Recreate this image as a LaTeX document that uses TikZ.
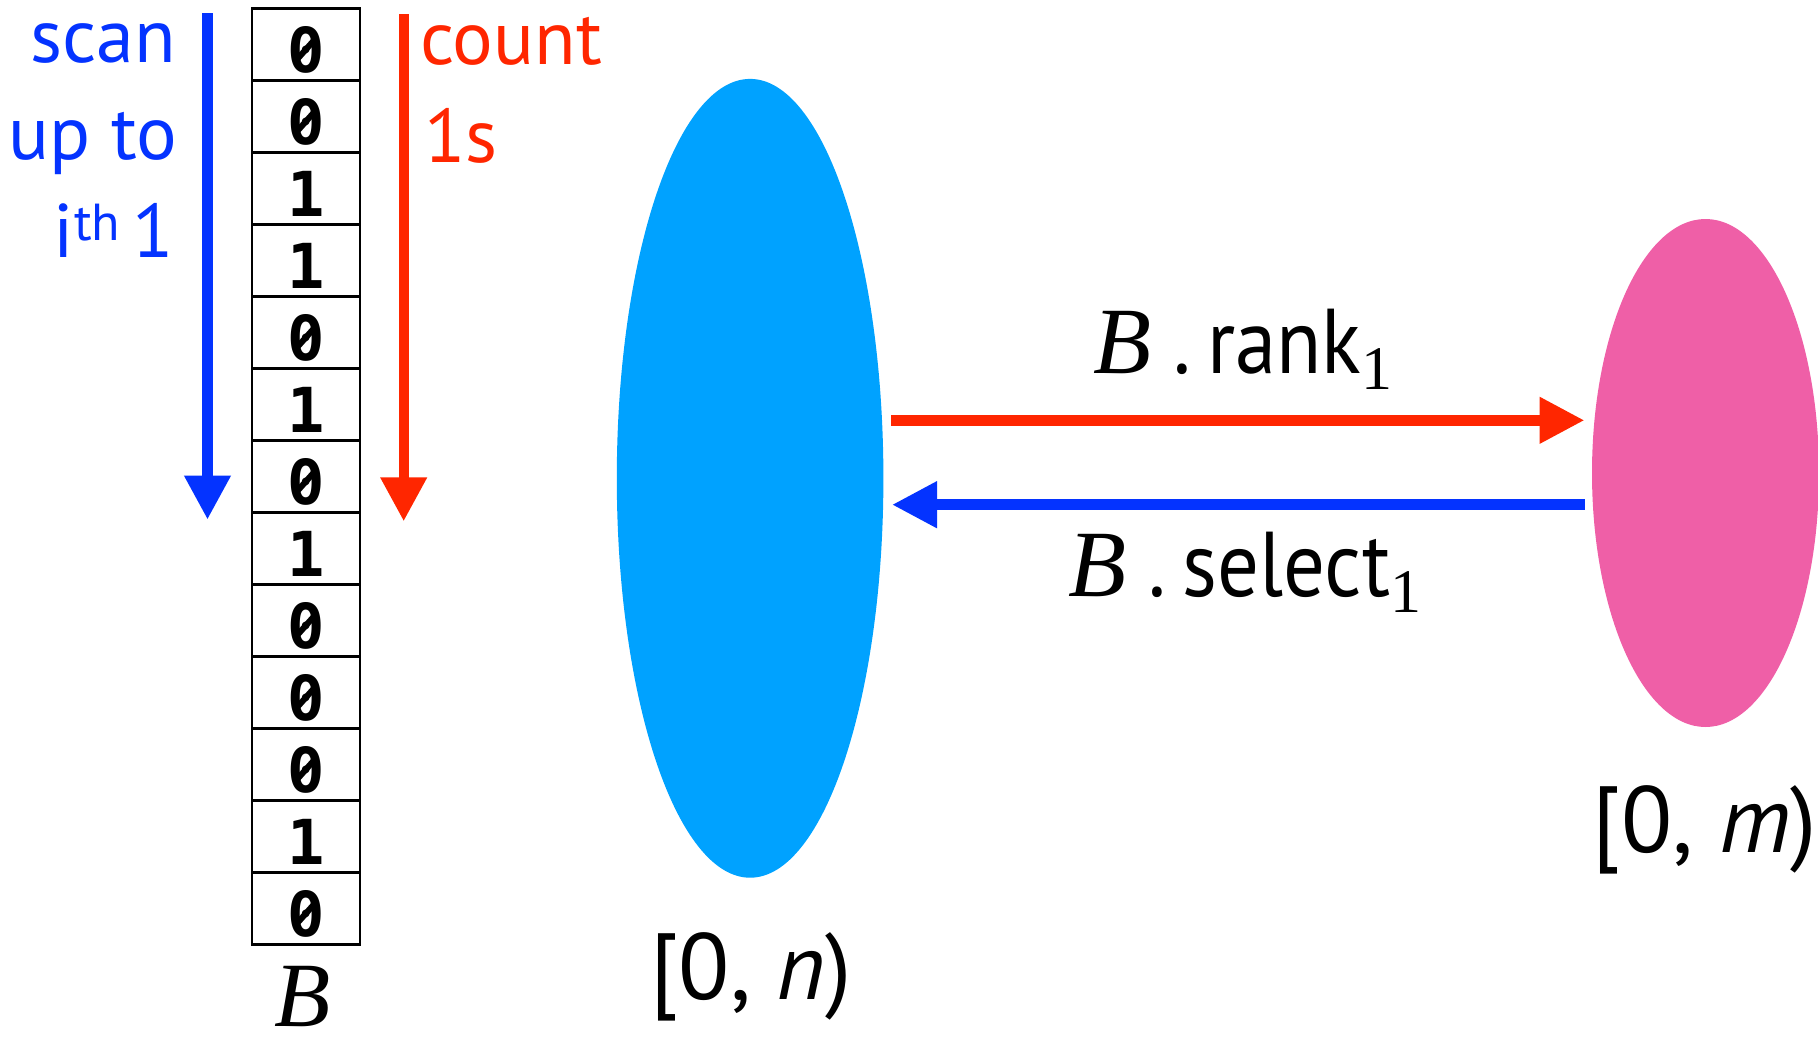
\documentclass[tikz,border=0pt]{standalone}
\usepackage{fontspec}
\setmainfont{PT Sans}
\newfontfamily\serf{Liberation Serif}
\newfontfamily\condf{PT Sans}[FakeStretch=0.9]
\newfontfamily\monof{DejaVu Sans Mono}
\usetikzlibrary{arrows.meta,shapes.geometric}
\newcommand\setfs[1]{\fontsize{#1}{#1}\selectfont}
\definecolor{myblue}{HTML}{0433FF}
\definecolor{myred}{HTML}{FF2600}
\definecolor{cyanset}{HTML}{00A2FF}
\definecolor{pinkset}{HTML}{EF5FA7}
\begin{document}
\begin{tikzpicture}[x=1pt,y=-1pt]
\tikzset{
 cell/.style={draw, line width=2.7pt, minimum width=108pt, minimum height=72pt, inner sep=0pt, text height=55.6pt, text depth=0pt, font=\monof\bfseries\setfs{62}},
 zslash/.style={line width=6pt, line cap=round},
 varrow/.style={line width=10.3pt, -{Triangle[length=44pt,width=44pt]}},
 harrow/.style={line width=10.7pt, -{Triangle[length=45pt,width=44pt]}},
 lbl/.style={inner sep=0pt, font=\setfs{76}},
 mlbl/.style={inner sep=0pt, anchor=base west},
}
\useasboundingbox (0,0) rectangle (1818,1045);
% sets
\node[ellipse, fill=cyanset, minimum width=266.6pt, minimum height=798.8pt, inner sep=0pt] (setn) at (750.1,478.3) {};
\node[ellipse, fill=pinkset, minimum width=227pt, minimum height=508pt, inner sep=0pt] (setm) at (1705.5,473) {};
% bit array
\foreach \d [count=\i from 0] in {0,0,1,1,0,1,0,1,0,0,0,1,0}{
  \node[cell] (c\i) at (306,44.3+72*\i) {\d};
  \ifnum\d=0
    \draw[zslash] ([shift={(-8,14)}]c\i.center) -- ([shift={(8,-4)}]c\i.center);
  \fi
}
% vertical arrows
\coordinate (bs) at (207.5,13);
\coordinate (be) at (207.5,519.6);
\draw[varrow, myblue] (bs) -- (be);
\coordinate (rs) at (403.7,14.3);
\coordinate (re) at (403.7,521.4);
\draw[varrow, myred] (rs) -- (re);
% side texts
\node[lbl, text=myblue, anchor=base east] (scan) at (176,62.5) {scan};
\node[lbl, text=myblue, anchor=base east] (upto) at (177,159) {up to};
\node[lbl, text=myblue, anchor=base east] (ith) at (174,257) {i\raisebox{17pt}{\setfs{52}th}\hspace{-8pt} 1};
\node[lbl, text=myred, anchor=base west] (count) at (420,64) {count};
\node[lbl, text=myred, anchor=base west] (ones) at (424,162.5) {1s};
% horizontal arrows
\coordinate (ra) at (891,420.3);
\coordinate (rb) at (1584.5,420.3);
\draw[harrow, myred] (ra) -- (rb);
\coordinate (sa) at (1584.5,504.7);
\coordinate (sb) at (892,504.7);
\draw[harrow, myblue] (sa) -- (sb);
% operation labels
\node[mlbl] (rank) at (1093.5,373.3) {{\serf\itshape\setfs{95}B}\hspace{22pt}{\condf\setfs{92}.\hspace{16pt}rank\raisebox{-16pt}{\serf\setfs{62}1}}};
\node[mlbl] (select) at (1068.4,596) {{\serf\itshape\setfs{95}B}\hspace{22pt}{\condf\setfs{92}.\hspace{16pt}select\raisebox{-16pt}{\serf\setfs{62}1}}};
% interval labels
\node[inner sep=0pt, anchor=base, font=\setfs{94}] (intn) at (751,999) {[0, \textit{n})};
\node[inner sep=0pt, anchor=base, font=\setfs{94}] (intm) at (1705,852) {[0, \textit{m})};
\node[inner sep=0pt, anchor=base] (blabel) at (303,1026) {\serf\itshape\setfs{92}B};
\end{tikzpicture}
\end{document}
